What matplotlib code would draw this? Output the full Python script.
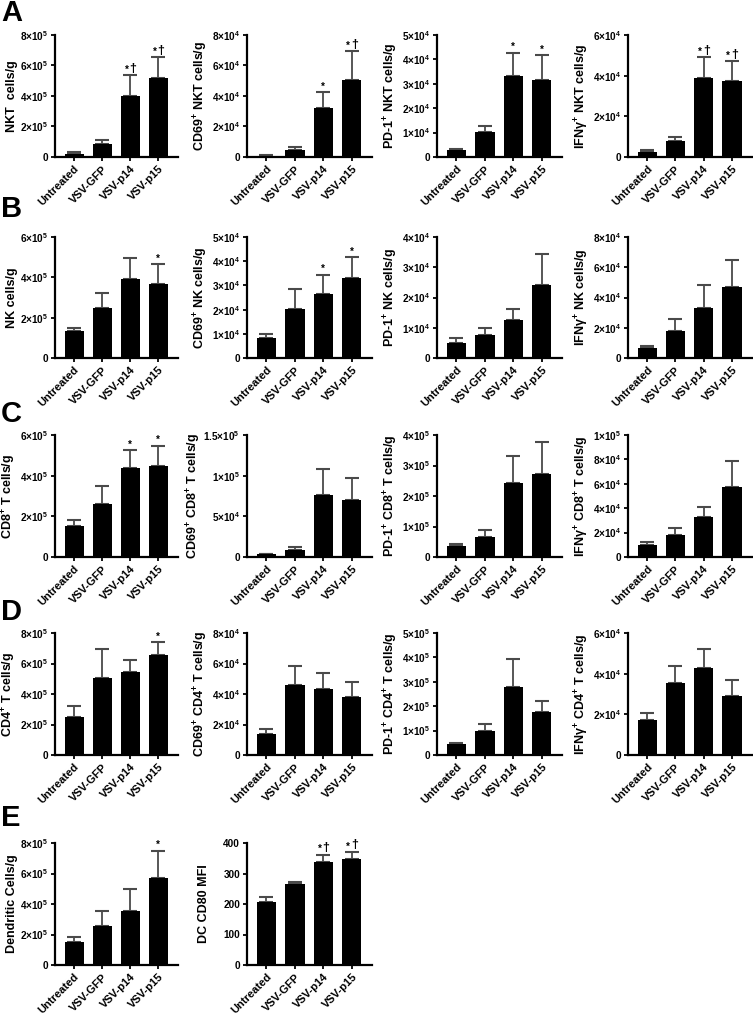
import matplotlib
matplotlib.use("Agg")
import matplotlib.pyplot as plt
import numpy as np

plt.rcParams['font.family'] = ['Liberation Sans', 'DejaVu Sans']
plt.rcParams['font.weight'] = 'bold'
plt.rcParams['mathtext.fontset'] = 'custom'
plt.rcParams['mathtext.rm'] = 'Liberation Sans:bold'
plt.rcParams['mathtext.it'] = 'Liberation Sans:bold'
plt.rcParams['mathtext.bf'] = 'Liberation Sans:bold'
plt.rcParams['mathtext.default'] = 'rm'

groups = ["Untreated", "VSV-GFP", "VSV-p14", "VSV-p15"]

# Row A: NKT
nkt_mean = [2.2e4, 8.3e4, 4.0e5, 5.15e5]
nkt_err = [1.1e4, 2.7e4, 1.35e5, 1.38e5]
nkt_sig = ["", "", "*†", "*†"]
cd69_nkt_mean = [900, 4400, 3.2e4, 5.02e4]
cd69_nkt_err = [400, 2000, 1.03e4, 1.91e4]
cd69_nkt_sig = ["", "", "*", "*†"]
pd1_nkt_mean = [2900, 1.01e4, 3.32e4, 3.15e4]
pd1_nkt_err = [500, 2400, 9500, 1.01e4]
pd1_nkt_sig = ["", "", "*", "*"]
ifn_nkt_mean = [2300, 7900, 3.88e4, 3.72e4]
ifn_nkt_err = [1000, 1800, 1.02e4, 9800]
ifn_nkt_sig = ["", "", "*†", "*†"]

# Row B: NK
nk_mean = [1.35e5, 2.48e5, 3.9e5, 3.67e5]
nk_err = [1.3e4, 7.4e4, 1.08e5, 9.7e4]
nk_sig = ["", "", "", "*"]
cd69_nk_mean = [8400, 2.03e4, 2.64e4, 3.29e4]
cd69_nk_err = [1700, 8100, 8100, 8700]
cd69_nk_sig = ["", "", "*", "*"]
pd1_nk_mean = [4900, 7700, 1.26e4, 2.4e4]
pd1_nk_err = [1600, 2100, 3600, 1.05e4]
pd1_nk_sig = ["", "", "", ""]
ifn_nk_mean = [6600, 1.78e4, 3.33e4, 4.71e4]
ifn_nk_err = [1300, 8200, 1.47e4, 1.74e4]
ifn_nk_sig = ["", "", "", ""]

# Row C: CD8
cd8_mean = [1.51e5, 2.63e5, 4.37e5, 4.5e5]
cd8_err = [3.3e4, 8.4e4, 8.8e4, 9.8e4]
cd8_sig = ["", "", "*", "*"]
cd69_cd8_mean = [3300, 8200, 7.6e4, 7.0e4]
cd69_cd8_err = [700, 4100, 3.2e4, 2.67e4]
cd69_cd8_sig = ["", "", "", ""]
pd1_cd8_mean = [3.5e4, 6.6e4, 2.44e5, 2.71e5]
pd1_cd8_err = [7000, 2.4e4, 8.7e4, 1.06e5]
pd1_cd8_sig = ["", "", "", ""]
ifn_cd8_mean = [1.01e4, 1.84e4, 3.26e4, 5.7e4]
ifn_cd8_err = [2200, 5700, 8500, 2.14e4]
ifn_cd8_sig = ["", "", "", ""]

# Row D: CD4
cd4_mean = [2.52e5, 5.04e5, 5.42e5, 6.54e5]
cd4_err = [6.8e4, 1.93e5, 7.8e4, 8.5e4]
cd4_sig = ["", "", "", "*"]
cd69_cd4_mean = [1.38e4, 4.6e4, 4.34e4, 3.79e4]
cd69_cd4_err = [3500, 1.21e4, 1.05e4, 9700]
cd69_cd4_sig = ["", "", "", ""]
pd1_cd4_mean = [4.5e4, 9.9e4, 2.78e5, 1.75e5]
pd1_cd4_err = [6000, 2.8e4, 1.15e5, 4.8e4]
pd1_cd4_sig = ["", "", "", ""]
ifn_cd4_mean = [1.71e4, 3.54e4, 4.26e4, 2.89e4]
ifn_cd4_err = [3800, 8500, 9400, 7800]
ifn_cd4_sig = ["", "", "", ""]

# Row E: DC
dc_mean = [1.54e5, 2.59e5, 3.53e5, 5.68e5]
dc_err = [3.2e4, 9.2e4, 1.45e5, 1.8e5]
dc_sig = ["", "", "", "*"]
cd80_mean = [206, 265, 337, 347]
cd80_err = [18, 6, 25, 23]
cd80_sig = ["", "", "*†", "*†"]

panels = [
    # row, col, label, mean, err, sig, ymax, step
    (0, 0, "NKT  cells/g", nkt_mean, nkt_err, nkt_sig, 8e5, 2e5),
    (0, 1, "CD69$^{+}$ NKT cells/g", cd69_nkt_mean, cd69_nkt_err, cd69_nkt_sig, 8e4, 2e4),
    (0, 2, "PD-1$^{+}$ NKT cells/g", pd1_nkt_mean, pd1_nkt_err, pd1_nkt_sig, 5e4, 1e4),
    (0, 3, "IFNγ$^{+}$ NKT cells/g", ifn_nkt_mean, ifn_nkt_err, ifn_nkt_sig, 6e4, 2e4),
    (1, 0, "NK cells/g", nk_mean, nk_err, nk_sig, 6e5, 2e5),
    (1, 1, "CD69$^{+}$ NK cells/g", cd69_nk_mean, cd69_nk_err, cd69_nk_sig, 5e4, 1e4),
    (1, 2, "PD-1$^{+}$ NK cells/g", pd1_nk_mean, pd1_nk_err, pd1_nk_sig, 4e4, 1e4),
    (1, 3, "IFNγ$^{+}$ NK cells/g", ifn_nk_mean, ifn_nk_err, ifn_nk_sig, 8e4, 2e4),
    (2, 0, "CD8$^{+}$ T cells/g", cd8_mean, cd8_err, cd8_sig, 6e5, 2e5),
    (2, 1, "CD69$^{+}$ CD8$^{+}$ T cells/g", cd69_cd8_mean, cd69_cd8_err, cd69_cd8_sig, 1.5e5, 5e4),
    (2, 2, "PD-1$^{+}$ CD8$^{+}$ T cells/g", pd1_cd8_mean, pd1_cd8_err, pd1_cd8_sig, 4e5, 1e5),
    (2, 3, "IFNγ$^{+}$ CD8$^{+}$ T cells/g", ifn_cd8_mean, ifn_cd8_err, ifn_cd8_sig, 1e5, 2e4),
    (3, 0, "CD4$^{+}$ T cells/g", cd4_mean, cd4_err, cd4_sig, 8e5, 2e5),
    (3, 1, "CD69$^{+}$ CD4$^{+}$ T cells/g", cd69_cd4_mean, cd69_cd4_err, cd69_cd4_sig, 8e4, 2e4),
    (3, 2, "PD-1$^{+}$ CD4$^{+}$ T cells/g", pd1_cd4_mean, pd1_cd4_err, pd1_cd4_sig, 5e5, 1e5),
    (3, 3, "IFNγ$^{+}$ CD4$^{+}$ T cells/g", ifn_cd4_mean, ifn_cd4_err, ifn_cd4_sig, 6e4, 2e4),
    (4, 0, "Dendritic Cells/g", dc_mean, dc_err, dc_sig, 8e5, 2e5),
    (4, 1, "DC CD80 MFI", cd80_mean, cd80_err, cd80_sig, 400, 100),
]

W, H = 753, 1016
fig = plt.figure(figsize=(W / 100, H / 100), dpi=100)

lefts = [55, 247, 437, 628]
rights = [178, 372, 562, 752]
rows = [(35, 157), (237, 358), (435, 557), (633, 755), (843, 965)]
letters = ["A", "B", "C", "D", "E"]
letter_y = [13, 209, 414, 612, 818]


def fmt(v):
    if v == 0:
        return "0"
    if v < 1000:
        return "%d" % v
    e = int(np.floor(np.log10(v) + 1e-9))
    m = v / 10 ** e
    ms = ("%g" % round(m, 2))
    return ms + "×10$^{%d}$" % e


ecol = "#4a4a4a"
for (r, c, ylab, mean, err, sig, ymax, step) in panels:
    l, rt = lefts[c], rights[c]
    t, b = rows[r]
    ax = fig.add_axes([l / W, 1 - b / H, (rt - l) / W, (b - t) / H])
    x = np.arange(len(groups))
    ax.bar(x, mean, width=0.68, color="black", zorder=2)
    ax.errorbar(x, mean, yerr=[np.zeros(len(mean)), err], fmt="none",
                ecolor=ecol, elinewidth=1.3, capsize=5, capthick=1.5, zorder=1)
    for xi, m, e, s in zip(x, mean, err, sig):
        if not s:
            continue
        top = m + e
        if "†" in s:
            ax.annotate("*", (xi, top), xytext=(-2.6, 0.5), textcoords="offset points",
                        ha="center", va="bottom", fontsize=7, fontweight="bold")
            ax.annotate("†", (xi, top), xytext=(1.8, 0.5), textcoords="offset points",
                        ha="center", va="bottom", fontsize=9, fontweight="bold")
        else:
            ax.annotate("*", (xi, top), xytext=(0, 0.5), textcoords="offset points",
                        ha="center", va="bottom", fontsize=7, fontweight="bold")
    ax.set_xlim(-0.68, 3.71)
    ax.set_ylim(0, ymax)
    ticks = np.arange(0, ymax + step * 0.01, step)
    ax.set_yticks(ticks)
    labels = [fmt(v) for v in ticks]
    ax.set_yticklabels(labels, fontsize=7.2, fontweight="bold")
    ax.set_xticks(x)
    ax.set_xticklabels(groups, rotation=45, ha="right", rotation_mode="anchor",
                       fontsize=8, fontweight="bold")
    ax.set_ylabel(ylab, fontsize=9, fontweight="bold")
    off = 44.0 if any("." in s for s in labels) else 37.0
    ax.yaxis.set_label_coords(-off / (rt - l), 0.5)
    for sp in ["top", "right"]:
        ax.spines[sp].set_visible(False)
    for sp in ["left", "bottom"]:
        ax.spines[sp].set_linewidth(1.6)
    ax.tick_params(axis="both", width=1.3, length=3, pad=2)

for L, ly in zip(letters, letter_y):
    fig.text(1 / W, 1 - ly / H, L, fontsize=21, fontweight="bold", va="center", ha="left")

fig.savefig("out.png", dpi=100)
